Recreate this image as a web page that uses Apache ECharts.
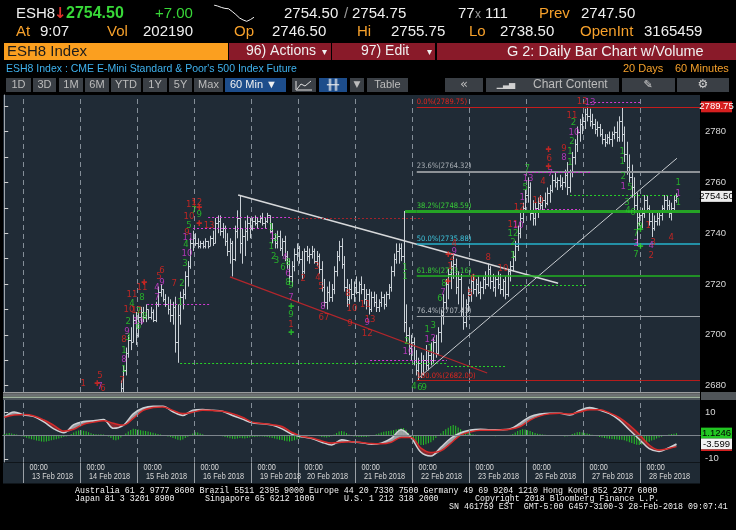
<!DOCTYPE html>
<html><head><meta charset="utf-8">
<script src="https://cdn.jsdelivr.net/npm/echarts@6/dist/echarts.min.js"></script>
<style>html,body{margin:0;padding:0;background:#000;}#c{width:736px;height:530px;}</style>
</head><body><div id="c"></div>
<script>
// ---------- time structure (GMT hourly bars) ----------
const dayNames = ['12 Feb 2018','13 Feb 2018','14 Feb 2018','15 Feb 2018','16 Feb 2018','19 Feb 2018','20 Feb 2018','21 Feb 2018','22 Feb 2018','23 Feb 2018','26 Feb 2018','27 Feb 2018','28 Feb 2018'];
const dayBarCounts = [8,23,23,23,23,19,23,23,23,23,23,23,15];
const N_SLOTS = 281;

// ---------- ESH8 60-min bars ----------
const opens = [
2660,2662,2667,2670,2666,2663,2659,2660,2657,2653,
2648,2651,2649,2641,2644,2647,2645,2639,2641,2646,
2650,2653,2655,2658,2660,2657,2659,2663,2666,2668,
2669,2671,2672,2670,2667,2669,2672,2674,2672,2670,
2668,2665,2664,2662,2664,2640,2652,2665,2679,2686,
2693,2698,2697,2706,2700,2707,2709,2707,2710,2707,
2709,2706,2712,2717,2718,2714,2712,2710,2708,2711,
2697,2708,2715,2716,2723,2727,2736,2738,2736,2735,
2736,2735,2737,2735,2738,2736,2744,2745,2741,2742,
2737,2733,2736,2730,2741,2746,2736,2739,2741,2744,
2742,2745,2744,2745,2746,2744,2745,2747,2741,2738,
2736,2739,2734,2737,2731,2728,2723,2727,2732,2734,
2730,2725,2733,2731,2732,2733,2729,2731,2726,2719,
2713,2717,2715,2718,2725,2731,2735,2728,2719,2714,
2718,2716,2719,2717,2720,2718,2714,2716,2710,2715,
2713,2711,2713,2715,2712,2716,2719,2725,2730,2733,
2734,2731,2705,2700,2695,2697,2690,2686,2689,2685,
2690,2688,2692,2690,2697,2693,2701,2708,2713,2720,
2724,2727,2728,2719,2722,2710,2705,2712,2716,2721,
2718,2720,2717,2719,2722,2720,2726,2721,2719,2722,
2720,2718,2721,2716,2725,2727,2731,2735,2740,2746,
2750,2755,2758,2748,2746,2750,2752,2751,2753,2752,
2756,2757,2761,2760,2761,2759,2760,2763,2758,2764,
2770,2775,2780,2783,2784,2787,2786,2784,2783,2781,
2782,2779,2777,2776,2778,2777,2779,2780,2778,2784,
2779,2771,2766,2762,2758,2751,2746.5,2747,2748,2753,
2750,2745,2742,2745,2746,2747,2750,2753,2751,2748,
2750,2753];
const highs = [
2666,2670,2673,2674,2669,2667,2663,2664,2661,2657,
2654,2655,2652,2647,2650,2652,2649,2644,2648,2652,
2656,2658,2660,2663,2664,2661,2665,2668,2671,2672,
2673,2675,2676,2674,2671,2674,2676,2677,2676,2675,
2672,2669,2668,2667,2666,2655,2668,2682,2688,2695,
2700,2703,2708,2709,2709,2711,2711,2712,2710,2711,
2710,2713,2719,2720,2718,2716,2715,2714,2713,2715,
2712,2717,2718,2725,2729,2738,2741,2740,2738,2737,
2737,2738,2737,2739,2741,2746,2747,2747,2744,2743,
2740,2738,2737,2743,2749,2755,2742,2745,2747,2746,
2746,2747,2746,2747,2748,2746,2748,2747,2744,2740,
2741,2741,2738,2739,2733,2730,2729,2734,2736,2735,
2733,2734,2735,2734,2735,2734,2733,2732,2729,2722,
2719,2721,2720,2727,2733,2737,2738,2731,2722,2720,
2722,2721,2723,2721,2723,2720,2718,2718,2717,2717,
2716,2714,2717,2716,2717,2720,2727,2732,2736,2736,
2736,2748.75,2712,2703,2700,2699,2694,2691,2693,2692,
2696,2694,2697,2699,2700,2703,2710,2716,2722,2726,
2729,2732,2730,2725,2724,2716,2714,2719,2723,2724,
2722,2723,2721,2723,2725,2728,2727,2724,2723,2725,
2724,2722,2723,2726,2729,2733,2737,2743,2748,2752,
2757,2762,2760,2753,2752,2754,2755,2754,2756,2758,
2759,2763,2764,2762,2763,2762,2765,2768,2765,2772,
2777,2782,2785,2787,2789,2789.75,2789,2787,2785,2784,
2783,2781,2779,2779,2780,2780,2782,2784,2786,2789.5,
2782,2776,2771,2767,2762,2756,2749,2750,2755,2755,
2751,2748,2747,2748,2749,2751,2755,2755,2753,2752,
2755,2755.75];
const lows = [
2655,2658,2663,2664,2660,2657,2654,2655,2650,2645,
2643,2646,2638,2635,2640,2642,2636,2633,2637,2643,
2646,2648,2650,2654,2655,2652,2656,2659,2662,2664,
2666,2667,2668,2665,2663,2666,2669,2670,2668,2666,
2663,2660,2659,2658,2628,2632,2648,2662,2676,2684,
2691,2694,2697,2696,2699,2704,2705,2705,2706,2706,
2705,2705,2711,2715,2713,2711,2708,2705,2704,2693,
2689,2704,2710,2714,2719,2726,2733,2735,2734,2734,
2734,2734,2734,2735,2735,2736,2740,2739,2738,2735,
2731,2728,2723,2729,2738,2732,2728,2731,2737,2738,
2741,2743,2742,2744,2743,2742,2744,2740,2736,2734,
2734,2733,2731,2729,2726,2720,2719,2725,2729,2728,
2722,2724,2729,2728,2730,2728,2727,2724,2717,2711,
2710,2713,2713,2716,2723,2729,2726,2717,2711,2712,
2714,2713,2716,2713,2716,2712,2710,2708,2709,2711,
2709,2709,2711,2710,2711,2714,2717,2723,2728,2728,
2729,2701,2697,2692,2690,2688,2684,2682,2683,2684,
2686,2686,2688,2689,2691,2692,2697,2704,2710,2714,
2718,2722,2716,2712,2707,2702,2703,2709,2713,2716,
2715,2716,2714,2716,2718,2719,2718,2717,2715,2718,
2716,2715,2714,2715,2721,2725,2729,2733,2738,2744,
2748,2752,2745,2743,2743,2746,2749,2749,2750,2751,
2752,2756,2758,2757,2758,2757,2758,2755,2756,2762,
2767,2772,2776,2779,2781,2784,2782,2781,2779,2778,
2778,2775,2774,2775,2775,2774,2777,2776,2776,2776,
2768,2763,2760,2754,2748,2735,2743,2742,2746,2748,
2743,2738.5,2741,2743,2743,2745,2748,2749,2746,2745,
2749,2752];
const closes = [
2662,2667,2670,2666,2663,2659,2660,2657,2653,2648,
2651,2649,2641,2644,2647,2645,2639,2641,2646,2650,
2653,2655,2658,2660,2657,2659,2663,2666,2668,2669,
2671,2672,2670,2667,2669,2672,2674,2672,2670,2668,
2665,2664,2662,2664,2640,2652,2665,2679,2686,2693,
2698,2697,2706,2700,2707,2709,2707,2710,2707,2709,
2706,2712,2717,2718,2714,2712,2710,2708,2711,2697,
2708,2715,2716,2723,2727,2736,2738,2736,2735,2736,
2735,2737,2735,2738,2736,2744,2745,2741,2742,2737,
2733,2736,2730,2741,2746,2736,2739,2741,2744,2742,
2745,2744,2745,2746,2744,2745,2747,2741,2738,2736,
2739,2734,2737,2731,2728,2723,2727,2732,2734,2730,
2725,2733,2731,2732,2733,2729,2731,2726,2719,2713,
2717,2715,2718,2725,2731,2735,2728,2719,2714,2718,
2716,2719,2717,2720,2718,2714,2716,2710,2715,2713,
2711,2713,2715,2712,2716,2719,2725,2730,2733,2734,
2731,2705,2700,2695,2697,2690,2686,2689,2685,2690,
2688,2692,2690,2697,2693,2701,2708,2713,2720,2724,
2727,2728,2719,2722,2710,2705,2712,2716,2721,2718,
2720,2717,2719,2722,2720,2726,2721,2719,2722,2720,
2718,2721,2716,2725,2727,2731,2735,2740,2746,2750,
2755,2758,2748,2746,2750,2752,2751,2753,2752,2756,
2757,2761,2760,2761,2759,2760,2763,2758,2764,2770,
2775,2780,2783,2784,2787,2786,2784,2783,2781,2782,
2779,2777,2776,2778,2777,2779,2780,2778,2784,2779,
2771,2766,2762,2758,2751,2744,2747,2748,2753,2750,
2745,2742,2745,2746,2747,2750,2753,2751,2748,2750,
2753,2754.5];

// ---------- MACD panel ----------
const macdHist = [
0.8,1.0,1.2,1.0,0.8,0.5,0.2,-0.2,-0.5,-0.9,
-1.2,-1.5,-1.8,-2.1,-2.3,-2.5,-2.6,-2.5,-2.3,-2.0,
-1.8,-1.5,-1.2,-0.9,-0.6,-0.3,0.2,0.8,1.4,1.9,
2.3,2.4,2.2,1.9,1.5,1.1,0.8,0.6,0.5,0.6,
0.5,0.3,-0.3,-1.0,-1.8,-2.0,-1.6,-0.8,0.2,1.0,
1.8,2.5,3.0,2.9,2.7,2.4,2.2,2.0,1.8,1.5,
1.3,1.0,0.8,0.5,0.3,0.0,-0.3,-0.6,-1.0,-1.3,
-1.8,-2.0,-1.6,-1.0,-0.4,0.4,1.0,1.5,1.4,1.0,
0.6,0.3,0.2,0.2,0.3,0.2,0.1,0.0,-0.2,-0.5,
-0.8,-1.1,-1.3,-1.4,-1.2,-1.0,-1.1,-1.2,-1.0,-0.8,
-0.6,-0.5,-0.4,-0.3,-0.3,-0.4,-0.6,-0.8,-1.0,-1.2,
-1.5,-1.7,-1.9,-2.2,-2.4,-2.5,-2.3,-2.0,-1.6,-1.2,
-0.8,-0.5,-0.3,-0.2,0.2,0.3,0.1,-0.2,-0.5,-0.7,
-0.8,-0.6,-0.2,0.5,1.2,1.8,2.1,1.8,1.2,0.5,
0.0,-0.3,-0.4,-0.5,-0.6,-0.6,-0.5,-0.3,-0.1,0.2,
0.6,1.0,1.4,1.7,1.9,2.1,2.3,2.5,2.7,2.9,
3.2,3.4,2.6,1.2,-0.5,-1.8,-2.8,-3.5,-4.0,-4.0,
-3.7,-3.3,-2.8,-2.0,-1.0,0.0,1.0,2.0,2.8,3.5,
4.2,4.6,4.3,3.6,2.8,2.2,1.6,1.2,0.9,0.6,
0.4,0.3,0.2,0.2,0.3,0.2,0.1,-0.1,-0.2,0.0,
0.1,0.2,0.3,0.2,0.4,0.8,1.4,2.0,2.5,2.8,
2.7,2.4,2.0,1.6,1.2,0.9,0.7,0.5,0.4,0.3,
0.2,0.1,0.1,0.2,0.1,-0.1,-0.3,-0.2,0.2,0.7,
1.1,1.5,1.6,1.4,1.2,1.0,0.7,0.4,0.1,-0.2,
-0.5,-0.8,-1.0,-1.2,-1.3,-1.4,-1.5,-1.6,-1.8,-1.8,
-2.0,-2.4,-2.8,-3.2,-3.6,-3.9,-4.0,-3.8,-3.5,-3.0,
-2.6,-2.1,-1.7,-1.2,-0.8,-0.4,0.0,0.3,0.5,0.7,
0.9,1.1246];
const macdIdx = [0,4,8,12,16,20,24,28,32,36,40,44,48,52,56,60,64,68,72,76,80,84,88,92,96,100,104,108,112,116,120,124,128,132,136,140,144,148,152,156,160,164,168,172,176,180,184,188,192,196,200,204,208,212,216,220,224,228,232,236,240,244,248,252,256,260,264,268,271];
const macdLine = [8.1,10.3,9.0,8.3,6.0,3.0,1.3,4.8,6.2,6.5,7.0,3.2,4.5,9.5,12.0,12.8,12.8,10.4,8.8,11.1,11.4,11.0,10.6,8.8,7.2,5.6,5.2,4.6,3.0,0.6,-0.5,-1.2,-2.8,-4.0,-1.7,-2.6,-3.0,-3.7,-3.2,-1.2,2.6,-0.8,-7.2,-8.8,-5.0,-1.1,1.3,2.5,2.8,2.6,2.6,3.0,5.5,8.3,9.4,9.7,9.7,9.0,11.0,12.2,11.2,9.6,6.8,2.6,-1.5,-5.6,-6.8,-5.2,-3.599];
const signalLine = [8.0,9.0,9.2,8.6,6.8,4.5,2.0,2.8,5.0,5.9,6.5,5.4,4.6,7.5,11.0,12.2,12.5,11.0,9.6,10.2,11.0,10.9,10.6,9.6,8.0,5.9,5.3,4.8,4.0,1.4,-0.2,-1.0,-2.3,-3.2,-2.8,-2.6,-2.9,-3.4,-3.5,-2.8,-0.8,-0.8,-5.4,-7.3,-6.6,-3.3,0.3,1.7,2.4,2.4,2.5,2.8,4.0,6.8,8.6,9.5,9.7,9.4,10.3,11.3,11.3,9.9,7.8,4.6,0.6,-4.0,-6.2,-5.5,-4.72];

// ---------- axis ticks / ranges ----------
const yLabelValues = [2680,2700,2720,2740,2760,2780];
const yTickValues = [2680,2690,2700,2710,2720,2730,2740,2750,2760,2770,2780,2790];
const priceMin = 2677.5, priceMax = 2794.4;
const macdMin = -11.4, macdMax = 15.5;
const macdAxisValues = [-10,10];

// ---------- Fibonacci retracement ----------
const fibPct = ['0.0%','23.6%','38.2%','50.0%','61.8%','76.4%','100.0%'];
const fibVal = [2789.75,2764.32,2748.59,2735.88,2723.16,2707.43,2682.00];
const fibStartIdx = 166.3;
const fib382AnchorIdx = 161.6;

// ---------- drawn trend lines (bar index, price) ----------
const triTopLine = [[94.3,2755.0],[223.3,2720.3]];
const channelLine = [[91.0,2722.8],[194.7,2685.0]];
const upTrendLine = [[166.9,2682.9],[271.2,2769.5]];

// ---------- TD dotted levels ----------
const tdLineStart = [82.2,76.1,115.2,57.6,70.9,147.5,178.5,204.7,214.0,211.2,228.1,236.2];
const tdLineEnd   = [115.2,106.0,168.8,83.0,178.5,178.5,201.9,235.3,232.2,236.2,271.3,256.4];
const tdLinePrice = [2746.3,2742.0,2745.9,2712.0,2688.8,2690.1,2687.8,2719.4,2749.4,2763.9,2755.0,2791.6];
const tdLineColor = ['m','m','dr','m','g','m','g','g','m','m','g','m'];

// ---------- TD sequential counts ----------
const tdIdx = [31.8,38.6,38.6,39.8,47.5,48.3,48.3,48.3,48.3,49.9,49.5,50.0,50.3,53.4,54.1,54.1,54.1,56.5,51.5,51.5,55.5,55.5,63.6,62.4,63.6,61.6,61.6,68.5,71.7,70.9,72.9,73.7,73.3,74.1,73.7,74.5,74.5,75.5,77.6,76.5,78.6,82.6,
107.6,108.0,109.4,107.6,108.6,109.8,113.2,112.4,114.4,114.4,114.4,115.6,115.6,115.6,115.6,120.5,126.1,126.5,127.7,128.5,128.9,138.6,140.2,139.4,145.5,147.5,146.3,146.3,
161.6,161.6,162.4,162.8,165.2,167.6,169.3,170.5,172.9,170.5,172.9,171.7,175.7,176.9,177.3,181.4,181.4,180.5,179.7,189.0,187.8,195.1,201.1,
205.1,205.1,205.1,205.1,207.2,207.6,208.8,210.0,210.8,211.2,215.2,217.2,220.1,219.7,225.7,225.7,228.1,228.1,228.9,229.7,228.9,229.5,233.0,236.2,
249.1,249.1,249.5,249.5,252.3,251.1,251.5,253.5,256.3,254.7,254.7,254.7,259.6,261.6,260.8,260.8,268.9,271.7,271.7,271.7,
37.4,56.4,78.5,78.5,178.9,178.8,219.3,219.3,115.6,115.6,256.4,256.4];
const tdPrice = [2680.7,2683.8,2679.5,2678.7,2681.9,2686.2,2690.1,2694.0,2698.0,2698.8,2701.3,2705.2,2710.1,2709.4,2703.2,2705.2,2709.0,2707.2,2712.2,2715.7,2718.5,2714.5,2725.5,2722.8,2720.6,2718.5,2714.5,2720.0,2720.0,2712.6,2728.0,2732.0,2735.5,2738.2,2740.2,2742.9,2746.5,2751.4,2752.0,2749.1,2747.2,2743.2,
2742.4,2738.5,2738.1,2734.6,2730.7,2729.1,2730.3,2726.4,2728.3,2724.0,2720.5,2719.3,2714.8,2707.8,2703.9,2722.0,2726.7,2722.4,2719.2,2711.0,2707.0,2716.1,2710.2,2704.3,2712.1,2706.2,2705.0,2700.4,
2726.3,2722.8,2697.2,2693.3,2679.5,2679.1,2679.1,2702.0,2703.5,2698.0,2698.4,2694.5,2714.1,2716.8,2720.0,2736.1,2732.9,2730.3,2726.7,2722.0,2716.1,2730.3,2726.0,
2731.1,2736.2,2739.7,2743.3,2742.9,2750.3,2753.9,2757.8,2765.3,2761.4,2752.7,2760.2,2763.3,2769.2,2773.5,2769.6,2772.0,2767.7,2775.9,2779.8,2786.5,2783.4,2792.0,2791.6,
2772.3,2768.4,2762.4,2758.5,2758.1,2752.2,2749.1,2748.3,2742.8,2739.7,2736.1,2731.8,2743.2,2736.5,2735.0,2731.1,2738.2,2759.8,2755.8,2751.9,
2680.7,2720.4,2749.9,2743.7,2731.5,2720.9,2772.8,2766.1,2711.0,2700.7,2741.3,2734.6];
const tdText = ['1','5','7','6','7','1','8','1','8','3','9','2','10','12','6','14','7','8','4','11','11','8','6','5','9','4','7','7','2','1','3','10','4','11','9','5','10','11','12','7','9','13',
'1','1','2','1','2','3','4','6','8','6','8','9','7','9','1','2','3','4','5','8','67','8','10','9','11','13','9','12',
'1','1','2','10','4','6','9','1','3','1','2','1','6','7','8','4','9','2','1','6','5','8','10',
'1','2','12','11','10','12','1','5','7','13','10','4','7','6','9','8','1','1','2','10','11','2','12','13',
'1','1','2','1','5','3','4','6','9','7','3','7','1','3','4','2','4','1','1','1',
'✚','✚','✚','✚','✚','✚','✚','✚','✚','✚','✚','✚'];
const tdColor = ['r','r','m','r','r','g','m','g','r','g','m','g','r','r','g','m','g','g','g','r','r','g','r','r','m','m','m','r','g','g','g','m','g','m','r','g','r','r','r','g','g','r',
'g','m','g','g','g','g','m','g','g','m','g','g','m','g','r','r','r','r','r','m','r','r','r','r','r','r','m','r',
'g','g','g','m','g','g','g','g','g','m','m','g','g','m','g','r','m','r','r','r','r','r','r',
'g','g','g','r','m','r','m','g','g','m','r','r','m','r','r','m','g','g','g','m','r','g','r','m',
'g','g','g','m','g','g','g','g','g','g','m','g','r','r','m','r','r','g','m','g',
'r','r','r','r','r','r','r','r','g','g','g','g'];

// ---------- header sparkline ----------
const sparkVals = [2790,2787,2783,2780,2779,2771,2762,2752,2746,2742,2747,2754];

// ================= build =================
const COL = {r:'#e5261f', g:'#28d028', m:'#d43ad6', dr:'#a3222b'};
const categories = [];
const dayStartIdx = [];
dayNames.forEach((d, i) => {
  if (i > 0) dayStartIdx.push(categories.length);
  for (let k = 0; k < dayBarCounts[i]; k++) categories.push(d + '#' + k);
});
for (let k = categories.length; k < N_SLOTS; k++) categories.push('pad#' + k);

const ohlcData = opens.map((o, i) => [i, o, closes[i], lows[i], highs[i]]);
const BAR_COLOR = '#c9d0d6';
function renderOHLC(params, api) {
  const cs = params.coordSys;
  const top = cs.y, bot = cs.y + cs.height;
  const i = api.value(0);
  const pH = api.coord([i, api.value(4)]);
  const pL = api.coord([i, api.value(3)]);
  if (pL[1] < top || pH[1] > bot) return null;
  const x = Math.round(pH[0]) + 0.5;
  const y1 = Math.max(pH[1], top), y2 = Math.min(pL[1], bot);
  const yO = Math.round(api.coord([i, api.value(1)])[1]) + 0.5;
  const yC = Math.round(api.coord([i, api.value(2)])[1]) + 0.5;
  const st = {stroke: BAR_COLOR, lineWidth: 1};
  const ch = [{type:'line', shape:{x1:x, y1:y1, x2:x, y2:y2}, style:st}];
  if (yO >= top && yO <= bot) ch.push({type:'line', shape:{x1:x - 1.5, y1:yO, x2:x, y2:yO}, style:st});
  if (yC >= top && yC <= bot) ch.push({type:'line', shape:{x1:x, y1:yC, x2:x + 1.5, y2:yC}, style:st});
  return {type:'group', children: ch};
}

const DAYLINE = {color:'#848e98', width:1, type:[5,4]};
const dayLinesPrice = dayStartIdx.map(k => [
  {coord:[k - 0.5, priceMin], lineStyle:DAYLINE, label:{show:false}},
  {coord:[k - 0.5, priceMax]}
]);
const dayLinesMacd = dayStartIdx.map(k => [
  {coord:[k - 0.5, macdMin], lineStyle:DAYLINE, label:{show:false}},
  {coord:[k - 0.5, macdMax]}
]);

const tdData = tdIdx.map((x, i) => ({
  value: [x, tdPrice[i]],
  label: {formatter: tdText[i], color: COL[tdColor[i]], fontSize: tdText[i] === '✚' ? 8 : 9.5}
}));

const fibColors = ['#c41c1c','#8d9297','#25a325','#25b3cc','#22b322','#9ca2a8','#b51c1c'];
const fibLabelColors = ['#e3261f','#a9afb5','#38cf38','#3fc6de','#38cf38','#b3b9bf','#e3261f'];
const fibWidths = [1,2,3,1.5,1.5,1,1];
const markLines = [];
fibVal.forEach((v, i) => {
  markLines.push([
    {coord:[fibStartIdx, v], lineStyle:{color:fibColors[i], width:fibWidths[i], type:'solid'},
     label:{show:true, position:'insideStartTop', formatter: fibPct[i] + '(' + v.toFixed(2) + ')',
            color:fibLabelColors[i], fontSize:7.5, distance:[0,1], fontFamily:'DejaVu Sans Condensed, DejaVu Sans'}},
    {coord:[N_SLOTS - 0.5, v]}
  ]);
});
markLines.push([
  {coord:[fib382AnchorIdx, fibVal[2]], lineStyle:{color:fibColors[2], width:fibWidths[2], type:'solid'}, label:{show:false}},
  {coord:[fibStartIdx, fibVal[2]]}
]);
tdLinePrice.forEach((p, i) => {
  markLines.push([
    {coord:[tdLineStart[i], p], lineStyle:{color:COL[tdLineColor[i]], width:1, type:[2,2]}, label:{show:false}},
    {coord:[tdLineEnd[i], p]}
  ]);
});

const bandBase = macdIdx.map((x, i) => [x, Math.min(macdLine[i], signalLine[i])]);
const bandUp = macdIdx.map((x, i) => [x, Math.max(macdLine[i] - signalLine[i], 0)]);
const bandDn = macdIdx.map((x, i) => [x, Math.max(signalLine[i] - macdLine[i], 0)]);
const macdPts = macdIdx.map((x, i) => [x, macdLine[i]]);
const sigPts = macdIdx.map((x, i) => [x, signalLine[i]]);
const SM = 0.35;

const FONT = 'Liberation Sans, Arial, sans-serif';
const chart = echarts.init(document.getElementById('c'), null, {renderer:'canvas'});
const option = {
  backgroundColor: '#000',
  animation: false,
  grid: [
    {left:3, top:95, width:697, height:297, show:true, backgroundColor:'#202b36', borderWidth:0, containLabel:false, outerBoundsMode:'none'},
    {left:3, top:400, width:697, height:62, show:true, backgroundColor:'#202b36', borderWidth:0, containLabel:false, outerBoundsMode:'none'},
    {left:214, top:5, width:40, height:17, show:false, containLabel:false, outerBoundsMode:'none'}
  ],
  xAxis: [
    {type:'category', gridIndex:0, data:categories, boundaryGap:true,
     axisLine:{show:false}, axisTick:{show:false}, axisLabel:{show:false}, splitLine:{show:false}},
    {type:'category', gridIndex:1, data:categories, boundaryGap:true, position:'bottom',
     axisLine:{show:true, lineStyle:{color:'#c4c8cc', width:1}},
     axisTick:{show:false}, axisLabel:{show:false}, splitLine:{show:false}},
    {type:'value', gridIndex:0, min:-0.5, max:N_SLOTS - 0.5, show:false, splitLine:{show:false}},
    {type:'category', gridIndex:2, data:sparkVals.map((_, i) => String(i)), show:false, boundaryGap:false},
    {type:'value', gridIndex:1, min:-0.5, max:N_SLOTS - 0.5, show:false, splitLine:{show:false}}
  ],
  yAxis: [
    {type:'value', gridIndex:0, position:'right', min:priceMin, max:priceMax,
     axisLine:{show:true, lineStyle:{color:'#a0a6ac'}},
     axisTick:{show:true, customValues:yTickValues, length:4, lineStyle:{color:'#d0d0d0'}},
     axisLabel:{show:true, customValues:yLabelValues, formatter: v => String(v), color:'#d8d8d8', fontSize:9.5, margin:5, fontFamily:FONT},
     splitLine:{show:false}},
    {type:'value', gridIndex:1, position:'right', min:macdMin, max:macdMax,
     axisLine:{show:true, lineStyle:{color:'#a0a6ac'}},
     axisTick:{show:true, customValues:macdAxisValues, length:4, lineStyle:{color:'#d0d0d0'}},
     axisLabel:{show:true, customValues:macdAxisValues, formatter: v => String(v), color:'#d8d8d8', fontSize:9.5, margin:5, fontFamily:FONT},
     splitLine:{show:false}},
    {type:'value', gridIndex:2, show:false, scale:true, splitLine:{show:false}}
  ],
  series: [
    {type:'line', xAxisIndex:2, yAxisIndex:0, data:triTopLine, symbol:'none', lineStyle:{color:'#d6d8da', width:1.6}, z:4,
     markLine:{silent:true, symbol:['none','none'], animation:false, data:dayLinesPrice, z:1}},
    {type:'custom', name:'ESH8', xAxisIndex:0, yAxisIndex:0, data:ohlcData, renderItem:renderOHLC,
     encode:{x:0, y:[1,2,3,4]}, clip:true, z:3},
    {type:'line', xAxisIndex:2, yAxisIndex:0, data:channelLine, symbol:'none', lineStyle:{color:'#b3262c', width:1.2}, z:4},
    {type:'line', xAxisIndex:2, yAxisIndex:0, data:upTrendLine, symbol:'none', lineStyle:{color:'#c8ccd0', width:1}, z:4},
    {type:'scatter', xAxisIndex:2, yAxisIndex:0, data:tdData, symbolSize:0.1, itemStyle:{color:'rgba(0,0,0,0)'},
     label:{show:true, position:'inside', fontFamily:'DejaVu Sans Condensed, DejaVu Sans', fontSize:9.5},
     markLine:{silent:true, symbol:['none','none'], animation:false, data:markLines}, z:5},
    {type:'bar', xAxisIndex:1, yAxisIndex:1, data:macdHist, barWidth:1, itemStyle:{color:'#27c427'},
     markLine:{silent:true, symbol:['none','none'], label:{show:false}, lineStyle:{color:'#7d858d', width:1, type:'solid'}, data:[{yAxis:0}]}, z:2},
    {type:'line', xAxisIndex:1, yAxisIndex:1, data:bandBase, stack:'band', stackStrategy:'all', symbol:'none', smooth:SM, lineStyle:{opacity:0}, z:3},
    {type:'line', xAxisIndex:1, yAxisIndex:1, data:bandUp, stack:'band', stackStrategy:'all', symbol:'none', smooth:SM, lineStyle:{opacity:0}, areaStyle:{color:'#a6aaaf', opacity:0.9}, z:3},
    {type:'line', xAxisIndex:1, yAxisIndex:1, data:bandDn, stack:'band', stackStrategy:'all', symbol:'none', smooth:SM, lineStyle:{opacity:0}, areaStyle:{color:'#8e2a30', opacity:0.9}, z:3},
    {type:'line', xAxisIndex:4, yAxisIndex:1, data:macdPts, symbol:'none', smooth:SM, lineStyle:{color:'#cdd1d5', width:1.5}, z:4,
     markLine:{silent:true, symbol:['none','none'], animation:false, data:dayLinesMacd}},
    {type:'line', xAxisIndex:4, yAxisIndex:1, data:sigPts, symbol:'none', smooth:SM, lineStyle:{color:'#d42a2a', width:1.5}, z:4},
    {type:'line', xAxisIndex:3, yAxisIndex:2, data:sparkVals, symbol:'none', lineStyle:{color:'#f0f0f0', width:1}, z:4}
  ]
};
chart.setOption(option);

// ================= header / footer / boxes =================
const G = [];
function rect(x, y, w, h, fill, z) { G.push({type:'rect', silent:true, z:z || 50, shape:{x:x, y:y, width:w, height:h}, style:{fill:fill}}); }
function txt(x, y, s, fill, font, align, z, sx) {
  const el = {type:'text', silent:true, z:z || 51, x:x, y:y, style:{text:s, fill:fill, font:font, textAlign:align || 'left', textVerticalAlign:'middle'}};
  if (sx) { el.scaleX = sx; }
  G.push(el);
}
function vline(x, y1, y2, stroke, z) {
  G.push({type:'line', silent:true, z:z || 45, shape:{x1:x, y1:y1, x2:x, y2:y2}, style:{stroke:stroke, lineWidth:1}});
}
const WHITE = '#f0f0f0', AMBER = '#f7a12b';
const F15 = '15px ' + FONT;
// row 1
txt(16, 14, 'ESH8', WHITE, F15);
txt(54, 14, '↓', '#e0302a', 'bold 15px DejaVu Sans');
txt(66, 14, '2754.50', '#38d838', 'bold 16px ' + FONT);
txt(155, 14, '+7.00', '#38d838', F15);
txt(284, 14, '2754.50', WHITE, F15);
txt(344, 14, '/', '#9a9a9a', F15);
txt(352, 14, '2754.75', WHITE, F15);
txt(458, 14, '77', WHITE, F15);
txt(475, 15, 'x', '#9a9a9a', '12px ' + FONT);
txt(485, 14, '111', WHITE, F15);
txt(539, 14, 'Prev', AMBER, F15);
txt(581, 14, '2747.50', WHITE, F15);
// row 2
txt(16, 32, 'At', AMBER, F15); txt(40, 32, '9:07', WHITE, F15);
txt(107, 32, 'Vol', AMBER, F15); txt(143, 32, '202190', WHITE, F15);
txt(234, 32, 'Op', AMBER, F15); txt(272, 32, '2746.50', WHITE, F15);
txt(357, 32, 'Hi', AMBER, F15); txt(391, 32, '2755.75', WHITE, F15);
txt(469, 32, 'Lo', AMBER, F15); txt(500, 32, '2738.50', WHITE, F15);
txt(580, 32, 'OpenInt', AMBER, F15); txt(644, 32, '3165459', WHITE, F15);
// row 3
rect(4, 43, 224, 17, '#fb9f1f');
txt(7, 51.5, 'ESH8 Index', '#1c1c1c', F15);
rect(229, 43, 102, 17, '#891a29');
txt(246, 51.5, '96) Actions', WHITE, '14px ' + FONT);
txt(322, 52, '▾', WHITE, '10px DejaVu Sans');
rect(332, 43, 103, 17, '#891a29');
txt(361, 51.5, '97) Edit', WHITE, '14px ' + FONT);
txt(427, 52, '▾', WHITE, '10px DejaVu Sans');
rect(437, 43, 299, 17, '#891a29');
txt(507, 51.5, 'G 2: Daily Bar Chart w/Volume', WHITE, '14.5px ' + FONT);
// row 4
txt(6, 69, "ESH8 Index : CME E-Mini Standard & Poor's 500 Index Future", '#3fb2ee', '10.5px ' + FONT);
txt(623, 69, '20 Days', AMBER, '11px ' + FONT);
txt(675, 69, '60 Minutes', AMBER, '11px ' + FONT);
// row 5 toolbar
const BTN = '#3a3f45', BLUE = '#1d4d8b', BTXT = '#bcbcbc', F11 = '11px ' + FONT;
[[6,31,'1D'],[33,56,'3D'],[59,83,'1M'],[85,109,'6M'],[111,141,'YTD'],[143,167,'1Y'],[169,192,'5Y'],[194,223,'Max'],[367,408,'Table'],[445,483,'«']].forEach(b => {
  rect(b[0], 78, b[1] - b[0], 14, BTN);
  txt((b[0] + b[1]) / 2, 85, b[2], BTXT, b[2] === '«' ? '13px DejaVu Sans' : F11, 'center');
});
rect(225, 78, 61, 14, BLUE); txt(230, 85, '60 Min ▼', WHITE, F11);
rect(292, 78, 24, 14, BTN);
G.push({type:'polyline', silent:true, z:52, shape:{points:[[297,89],[301,84],[305,86],[311,81]]}, style:{stroke:'#e0e0e0', fill:null, lineWidth:1}});
G.push({type:'polyline', silent:true, z:52, shape:{points:[[296,81],[296,90],[312,90]]}, style:{stroke:'#e0e0e0', fill:null, lineWidth:1}});
rect(319, 78, 28, 14, BLUE);
txt(333, 85, '╫╫', WHITE, '10px DejaVu Sans', 'center');
rect(350, 78, 14, 14, BTN); txt(357, 85, '▼', BTXT, '9px DejaVu Sans', 'center');
rect(486, 78, 133, 14, BTN);
txt(506, 85, '▁▃▅', '#d0d0d0', '8px DejaVu Sans', 'center');
txt(533, 85, 'Chart Content', BTXT, '12px ' + FONT);
rect(622, 78, 53, 14, BTN); txt(648, 85, '✎', '#d0d0d0', '11px DejaVu Sans', 'center');
rect(677, 78, 52, 14, BTN); txt(703, 85, '⚙', '#d0d0d0', '12px DejaVu Sans', 'center');
// separator between panels
rect(3, 392, 697, 1.5, '#9a9c9e', 40);
rect(3, 393.5, 697, 3, '#6c7073', 40);
rect(3, 396.5, 697, 1.5, '#9fb29f', 40);
rect(3, 398, 697, 2, '#4d555b', 40);
rect(701, 392, 35, 8, '#505559', 40);
// x label area background
rect(3, 462.5, 697, 21, '#1f2a34', -1);
// date labels under MACD panel (positioned from the axis scale)
dayStartIdx.forEach((k, j) => {
  const bx = Math.round(chart.convertToPixel({xAxisIndex:4}, k - 0.5)) + 0.5;
  vline(bx, 462.5, 483, '#9aa0a6', 45);
  txt(bx + 6, 468, '00:00', '#d8d8d8', '8.3px ' + FONT, 'left', 46, 0.88);
  txt(bx + 8.5, 477, dayNames[j + 1], '#d8d8d8', '8.3px ' + FONT, 'left', 46, 0.88);
});
// footer
const FM = '8.3px Liberation Mono, DejaVu Sans Mono, monospace', FW = '#f2f2f2';
txt(75, 491, 'Australia 61 2 9777 8600 Brazil 5511 2395 9000 Europe 44 20 7330 7500 Germany 49 69 9204 1210 Hong Kong 852 2977 6000', FW, FM);
txt(75, 499, 'Japan 81 3 3201 8900', FW, FM);
txt(205, 499, 'Singapore 65 6212 1000', FW, FM);
txt(344, 499, 'U.S. 1 212 318 2000', FW, FM);
txt(475, 499, 'Copyright 2018 Bloomberg Finance L.P.', FW, FM);
txt(449, 507, 'SN 461759 EST  GMT-5:00 G457-3100-3 28-Feb-2018 09:07:41', FW, FM);
// axis value boxes
const boxes = [
  {axis:0, value:2789.75, text:'2789.75', bg:'#d61f1f', fg:'#ffffff'},
  {axis:0, value:2754.50, text:'2754.50', bg:'#ececec', fg:'#000000'},
  {axis:1, value:1.1246, text:'1.1246', bg:'#22c622', fg:'#000000'},
  {axis:1, value:-3.599, text:'-3.599', bg:'#f2f2f2', fg:'#000000', under:'#d61f1f'}
];
boxes.forEach(b => {
  const py = chart.convertToPixel({yAxisIndex:b.axis}, b.value);
  rect(701, py - 5.5, 31, 11, b.bg, 60);
  if (b.under) rect(701, py + 5.5, 31, 1.5, b.under, 60);
  txt(716.5, py, b.text, b.fg, '9.5px ' + FONT, 'center', 61);
});
chart.setOption({graphic: G});
</script>
</body></html>
